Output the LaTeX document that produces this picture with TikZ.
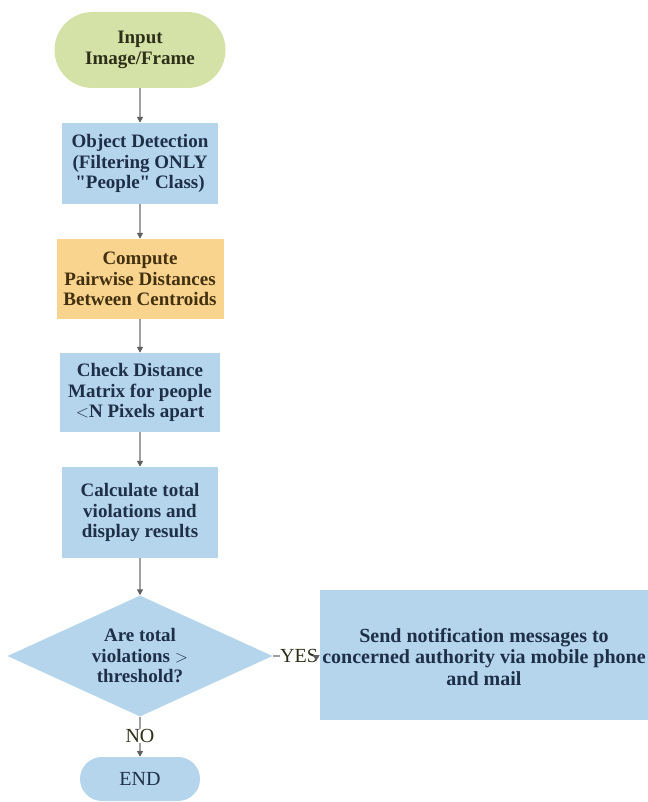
\documentclass[tikz,border=0pt]{standalone}
\usepackage{fontspec}
\setmainfont{Liberation Serif}
\usetikzlibrary{arrows.meta, shapes.geometric}
\definecolor{startgreen}{HTML}{D5E2A7}
\definecolor{procblue}{HTML}{B5D5EC}
\definecolor{procorange}{HTML}{F9D48F}
\definecolor{inkblue}{HTML}{1E3048}
\definecolor{inkbrown}{HTML}{43300F}
\definecolor{inkolive}{HTML}{2E2F18}
\definecolor{linegray}{HTML}{A0A0A0}
\definecolor{tipgray}{HTML}{606060}

\begin{document}
\begin{tikzpicture}[x=1pt, y=-1pt,
    txt/.style={font=\fontsize{19}{20.5}\selectfont\bfseries, align=center, inner sep=0pt},
    terminal/.style={txt, rounded corners=#1, fill=startgreen, text=inkolive},
    procbox/.style={txt, rectangle, fill=procblue, text=inkblue},
    label/.style={font=\fontsize{20}{20}\selectfont, text=inkolive, inner sep=0pt},
    link/.style={draw=linegray, line width=1.6pt, -{Triangle[length=6pt, width=6pt, color=tipgray]}},
    plain/.style={draw=linegray, line width=1.6pt}]
      \useasboundingbox[fill=white] (0, 0) rectangle (647, 802);
      \node (start)[terminal=38pt, minimum width=171pt, minimum height=76pt] at (140, 50) {Input\\Image/Frame};
      \node (detect)[procbox, minimum width=156pt, minimum height=81pt] at (140, 163.5) {Object Detection\\(Filtering ONLY\\\textquotedbl People\textquotedbl{} Class)};
      \node (pairs)[procbox, fill=procorange, text=inkbrown, minimum width=167pt, minimum height=80pt] at (140, 279) {Compute\\Pairwise Distances\\Between Centroids};
      \node (check)[procbox, minimum width=160pt, minimum height=79pt] at (140, 392.5) {Check Distance\\Matrix for people\\$<$N Pixels apart};
      \node (calc)[procbox, minimum width=156pt, minimum height=91pt] at (140, 512.5) {Calculate total\\violations and\\display results};
      \node (decide)[procbox, diamond, shape aspect=2.2, minimum width=265pt, minimum height=121pt] at (140, 656) {Are total\\violations $>$\\threshold?};
      \node (notify)[procbox, minimum width=345pt, minimum height=130pt] at (492.5, 655) {};
      \node (notifytext)[txt, font=\fontsize{20}{21.5}\selectfont\bfseries, text=inkblue] at (484, 657) {Send notification messages to\\concerned authority via mobile phone\\and mail};
      \node (yes)[label] at (299, 656) {YES};
      \node (no)[label] at (140, 736) {NO};
      \node (end)[terminal=22pt, fill=procblue, text=inkblue, font=\fontsize{20}{20}\selectfont, minimum width=120pt, minimum height=44pt] at (140, 779) {END};
      \draw[link] (start) -- (detect);
      \draw[link] (detect) -- (pairs);
      \draw[link] (pairs) -- (check);
      \draw[link] (check) -- (calc);
      \draw[link] (calc) -- (decide);
      \draw[plain] (decide.east) -- (yes.west);
      \draw[link] (yes.east) -- (notify.west);
      \draw[plain] (decide.south) -- (no.north);
      \draw[link] (no.south) -- (end.north);
    \end{tikzpicture}
\end{document}
